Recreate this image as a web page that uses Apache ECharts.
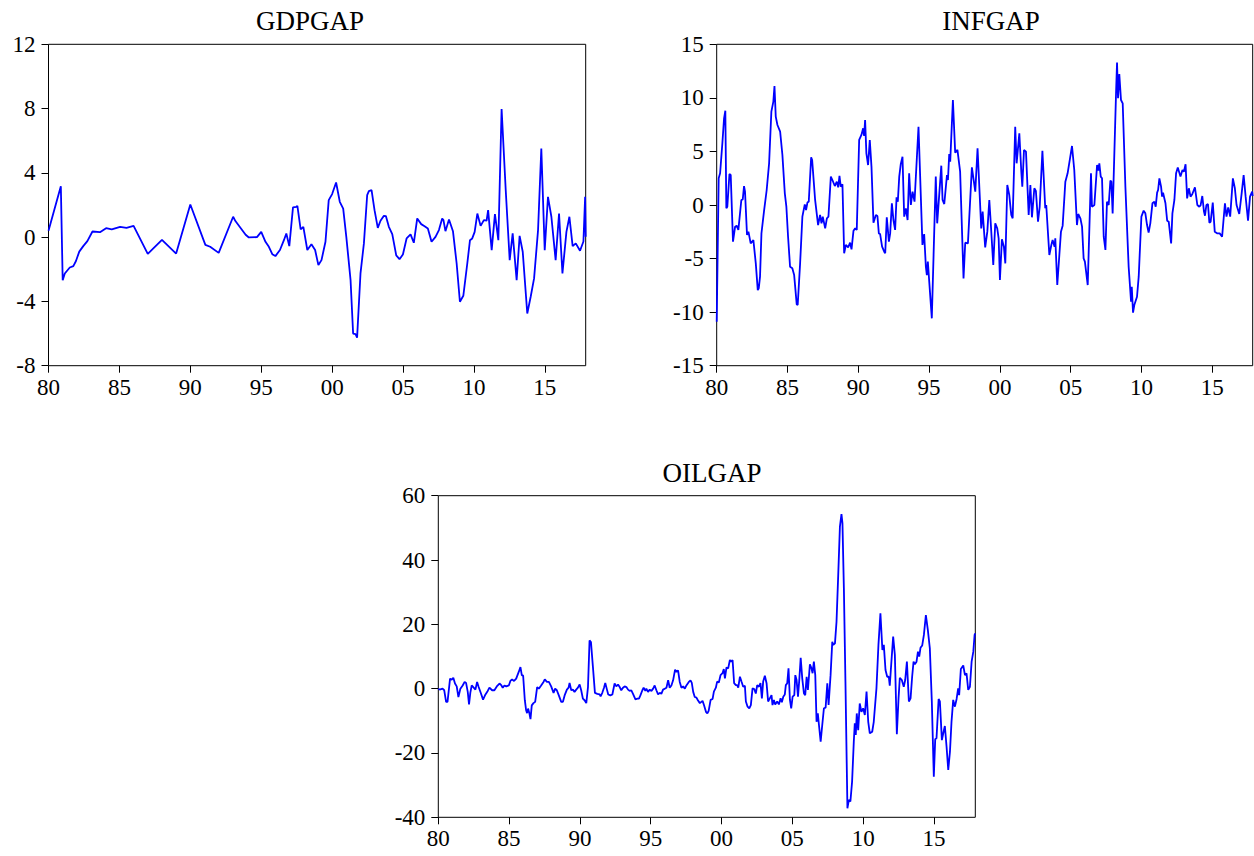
<!DOCTYPE html>
<html>
<head>
<meta charset="utf-8">
<script src="https://cdn.jsdelivr.net/npm/echarts@6/dist/echarts.min.js"></script>
<style>
html,body{margin:0;padding:0;background:#fff;}
#chart{width:1254px;height:856px;}
</style>
</head>
<body>
<div id="chart"></div>
<script>
// ---------- DATA ----------
const gdpYears = [1980.00,1980.87,1981.00,1981.15,1981.50,1981.75,1981.93,1982.17,1982.45,1982.74,1983.10,1983.63,1984.06,1984.46,1985.05,1985.50,1986.00,1987.00,1988.00,1989.00,1990.00,1991.06,1991.40,1992.00,1993.02,1993.18,1993.90,1994.13,1994.70,1995.00,1995.30,1995.54,1995.78,1996.00,1996.32,1996.60,1996.77,1996.98,1997.24,1997.48,1997.55,1997.78,1997.97,1998.25,1998.54,1998.80,1999.03,1999.25,1999.53,1999.76,2000.00,2000.28,2000.54,2000.78,2001.00,2001.30,2001.48,2001.65,2001.76,2002.00,2002.24,2002.47,2002.59,2002.78,2002.99,2003.22,2003.41,2003.65,2003.79,2004.00,2004.24,2004.52,2004.75,2004.99,2005.25,2005.53,2005.76,2006.00,2006.28,2006.52,2006.75,2007.01,2007.29,2007.53,2007.76,2007.85,2007.99,2008.24,2008.52,2008.78,2009.01,2009.25,2009.53,2009.72,2009.88,2010.05,2010.24,2010.47,2010.70,2010.89,2011.00,2011.25,2011.48,2011.72,2011.95,2012.24,2012.52,2012.73,2013.01,2013.22,2013.44,2013.76,2014.00,2014.24,2014.52,2014.75,2014.99,2015.22,2015.46,2015.76,2016.00,2016.24,2016.52,2016.73,2016.96,2017.18,2017.48,2017.72,2017.84,2017.88];
const gdpGap = [0.40,3.17,-2.68,-2.26,-1.89,-1.80,-1.50,-0.90,-0.56,-0.25,0.35,0.31,0.56,0.48,0.64,0.58,0.70,-1.04,-0.17,-1.02,2.03,-0.48,-0.60,-0.98,1.27,1.00,0.15,-0.02,0.00,0.33,-0.29,-0.60,-1.06,-1.18,-0.80,-0.19,0.23,-0.56,1.85,1.89,1.95,0.48,0.64,-0.80,-0.44,-0.80,-1.74,-1.43,-0.29,2.30,2.68,3.40,2.20,1.78,0.02,-2.68,-6.00,-6.04,-6.25,-2.26,-0.39,2.61,2.86,2.93,1.68,0.58,1.02,1.33,1.31,0.64,0.19,-1.14,-1.37,-1.08,-0.08,0.17,-0.35,1.16,0.81,0.68,0.54,-0.29,0.02,0.44,1.16,1.06,0.37,1.10,0.37,-1.64,-4.02,-3.65,-1.64,-0.19,-0.08,0.33,1.47,0.70,1.06,1.02,1.68,-0.81,1.43,-0.19,7.97,2.93,-1.43,0.23,-2.68,0.08,-0.91,-4.75,-3.71,-2.57,0.44,5.52,-0.81,2.51,1.27,-1.43,1.47,-2.26,0.33,1.27,-0.56,-0.39,-0.85,-0.27,2.51,0.02];

const infYears = [1980.00,1980.14,1980.24,1980.40,1980.52,1980.61,1980.68,1980.75,1980.90,1980.99,1981.15,1981.30,1981.41,1981.53,1981.74,1981.84,1981.93,1982.00,1982.14,1982.24,1982.40,1982.59,1982.76,1982.90,1982.97,1983.06,1983.16,1983.35,1983.53,1983.70,1983.86,1984.00,1984.08,1984.17,1984.29,1984.48,1984.64,1984.81,1984.92,1985.04,1985.18,1985.34,1985.47,1985.65,1985.72,1985.89,1986.05,1986.22,1986.31,1986.41,1986.50,1986.67,1986.74,1986.95,1987.16,1987.30,1987.40,1987.49,1987.66,1987.78,1987.89,1988.06,1988.17,1988.34,1988.48,1988.58,1988.67,1988.76,1988.88,1989.00,1989.12,1989.28,1989.42,1989.52,1989.66,1989.78,1989.89,1990.06,1990.22,1990.34,1990.41,1990.48,1990.57,1990.69,1990.81,1990.93,1991.07,1991.24,1991.35,1991.45,1991.54,1991.68,1991.83,1991.90,1992.01,1992.16,1992.25,1992.37,1992.48,1992.60,1992.70,1992.79,1992.89,1993.00,1993.12,1993.24,1993.36,1993.48,1993.59,1993.71,1993.83,1993.97,1994.25,1994.53,1994.65,1994.77,1994.84,1994.91,1995.19,1995.47,1995.57,1995.86,1995.95,1996.07,1996.26,1996.33,1996.42,1996.49,1996.68,1996.84,1997.00,1997.19,1997.43,1997.55,1997.74,1998.02,1998.26,1998.42,1998.68,1998.78,1998.96,1999.11,1999.25,1999.34,1999.53,1999.67,1999.81,1999.91,2000.00,2000.14,2000.28,2000.38,2000.52,2000.66,2000.80,2000.90,2001.08,2001.18,2001.37,2001.51,2001.58,2001.70,2001.84,2002.03,2002.15,2002.26,2002.43,2002.54,2002.69,2002.81,2003.00,2003.20,2003.27,2003.49,2003.63,2003.72,2003.86,2003.91,2004.05,2004.31,2004.43,2004.62,2004.78,2004.97,2005.09,2005.25,2005.44,2005.53,2005.68,2005.80,2005.91,2006.00,2006.20,2006.43,2006.50,2006.67,2006.86,2006.95,2007.02,2007.12,2007.21,2007.33,2007.45,2007.56,2007.68,2007.80,2007.87,2007.96,2008.08,2008.20,2008.27,2008.34,2008.43,2008.55,2008.67,2008.86,2009.09,2009.26,2009.31,2009.40,2009.49,2009.68,2009.80,2009.99,2010.15,2010.27,2010.39,2010.50,2010.62,2010.77,2010.91,2011.00,2011.10,2011.17,2011.26,2011.38,2011.45,2011.52,2011.69,2011.81,2011.92,2012.09,2012.18,2012.32,2012.44,2012.56,2012.75,2012.89,2012.99,2013.11,2013.22,2013.34,2013.46,2013.58,2013.77,2013.94,2014.08,2014.17,2014.29,2014.41,2014.48,2014.58,2014.69,2014.79,2014.88,2015.03,2015.17,2015.36,2015.52,2015.69,2015.89,2016.00,2016.12,2016.26,2016.45,2016.59,2016.71,2016.90,2017.07,2017.21,2017.35,2017.52,2017.66,2017.81,2017.85];
const infGap = [-10.9,2.49,2.96,5.76,8.09,8.8,-0.31,-0.16,2.89,2.8,-3.42,-2.02,-1.93,-2.33,0.47,0.53,1.77,1.24,-2.8,-2.49,-3.58,-3.27,-5.45,-7.94,-7.78,-6.69,-2.65,-0.47,1.4,3.89,8.71,9.65,11.11,8.25,7.47,6.85,4.67,1.09,-0.16,-2.96,-5.76,-5.91,-6.54,-9.27,-9.34,-5.45,-1.09,0.06,-0.47,0.25,0.31,4.45,4.2,0.47,-1.87,-0.93,-1.71,-1.09,-2.18,-1.24,-1.09,2.65,2.33,1.77,2.18,1.65,2.71,1.71,1.93,-4.51,-3.73,-3.95,-3.52,-4.14,-2.4,-2.18,-2.33,6.07,6.54,7.16,6.44,7.94,4.82,3.73,6.07,3.58,-1.65,-0.93,-1.03,-2.65,-2.71,-3.89,-4.36,-4.51,-1.15,-3.42,-2.65,0.16,-1.4,-2.33,0.72,0.31,2.65,3.83,4.51,-1.09,-0.31,-1.4,2.96,0.0,1.24,0.31,7.31,-3.73,-2.71,-5.76,-6.54,-5.29,-10.58,2.65,-1.71,3.67,0.47,0.09,2.8,2.33,4.76,4.05,9.8,4.89,5.14,3.11,-6.85,-3.52,-3.58,3.52,1.24,5.29,-2.18,-0.62,-3.95,-2.49,0.47,-1.4,-5.6,-1.71,-2.18,-3.11,-7.0,-3.2,-3.89,-5.45,1.87,0.93,-0.93,-1.24,7.31,3.89,6.69,3.11,1.71,5.14,4.98,-0.93,1.87,-1.15,1.56,1.31,-1.56,-0.16,5.07,-0.31,0.0,-4.67,-3.73,-3.27,-3.89,-3.11,-7.47,-2.49,-1.93,2.18,2.96,4.51,5.51,3.27,-1.87,-0.84,-1.24,-2.02,-4.98,-5.29,-7.47,2.96,-0.16,0.0,3.73,3.21,3.89,2.65,2.49,-2.96,-4.2,0.31,0.0,2.27,2.18,-0.78,4.82,10.43,13.29,9.96,12.23,9.8,9.49,1.71,-5.76,-9.03,-7.63,-10.05,-9.34,-8.56,-6.69,-1.09,-0.53,-0.78,-1.87,-2.58,-1.71,0.16,0.31,-0.16,1.15,1.4,2.49,1.71,0.78,1.15,0.16,-1.46,-1.56,-3.58,-0.78,0.47,2.96,3.49,2.65,3.27,3.11,3.8,0.62,1.56,0.78,1.0,1.65,0.0,-0.16,-0.03,0.84,-0.62,-1.0,0.0,0.09,-1.65,-1.56,0.22,-2.49,-2.65,-2.65,-2.96,0.16,-1.09,-0.22,-1.09,2.49,1.56,0.0,-0.84,1.09,2.8,0.78,-1.46,0.78,1.24,0.84];

const oilYears = [1980.00,1980.10,1980.30,1980.42,1980.55,1980.65,1980.83,1980.95,1981.06,1981.18,1981.30,1981.42,1981.56,1981.72,1981.86,1981.96,1982.08,1982.17,1982.26,1982.36,1982.50,1982.62,1982.74,1982.85,1983.02,1983.16,1983.33,1983.49,1983.61,1983.80,1983.96,1984.13,1984.32,1984.46,1984.55,1984.67,1984.80,1984.98,1985.09,1985.21,1985.35,1985.50,1985.68,1985.80,1985.90,1985.99,1986.11,1986.20,1986.27,1986.34,1986.44,1986.51,1986.60,1986.72,1986.84,1986.98,1987.10,1987.26,1987.43,1987.52,1987.67,1987.81,1987.97,1988.14,1988.25,1988.37,1988.51,1988.68,1988.80,1988.92,1989.08,1989.20,1989.27,1989.39,1989.50,1989.62,1989.74,1989.86,1989.98,1990.09,1990.21,1990.33,1990.45,1990.57,1990.68,1990.78,1990.92,1991.06,1991.23,1991.39,1991.46,1991.58,1991.70,1991.79,1991.91,1992.00,1992.15,1992.29,1992.45,1992.57,1992.69,1992.81,1992.92,1993.04,1993.16,1993.28,1993.40,1993.51,1993.63,1993.75,1993.92,1994.06,1994.17,1994.27,1994.41,1994.50,1994.62,1994.69,1994.81,1994.93,1995.05,1995.17,1995.28,1995.40,1995.52,1995.64,1995.75,1995.87,1995.99,1996.11,1996.23,1996.34,1996.46,1996.58,1996.72,1996.82,1996.93,1997.05,1997.17,1997.29,1997.41,1997.52,1997.69,1997.81,1997.90,1998.00,1998.11,1998.23,1998.33,1998.47,1998.66,1998.76,1998.90,1999.00,1999.09,1999.23,1999.37,1999.46,1999.60,1999.69,1999.81,1999.93,2000.07,2000.16,2000.24,2000.35,2000.47,2000.59,2000.68,2000.78,2000.89,2001.01,2001.10,2001.18,2001.30,2001.41,2001.53,2001.65,2001.72,2001.84,2001.96,2002.07,2002.19,2002.31,2002.42,2002.52,2002.64,2002.75,2002.85,2002.94,2003.06,2003.18,2003.29,2003.41,2003.53,2003.60,2003.70,2003.79,2003.93,2004.05,2004.17,2004.26,2004.36,2004.47,2004.54,2004.64,2004.73,2004.83,2004.92,2005.02,2005.14,2005.21,2005.30,2005.40,2005.49,2005.59,2005.70,2005.82,2005.91,2006.01,2006.10,2006.24,2006.34,2006.43,2006.52,2006.62,2006.71,2006.80,2006.88,2007.00,2007.09,2007.23,2007.35,2007.47,2007.56,2007.70,2007.82,2007.89,2008.01,2008.12,2008.24,2008.36,2008.47,2008.54,2008.64,2008.75,2008.89,2008.99,2009.10,2009.22,2009.34,2009.41,2009.48,2009.55,2009.65,2009.76,2009.88,2010.00,2010.12,2010.24,2010.36,2010.47,2010.64,2010.75,2010.94,2011.08,2011.22,2011.36,2011.46,2011.58,2011.70,2011.81,2011.88,2011.98,2012.12,2012.24,2012.38,2012.50,2012.59,2012.73,2012.87,2012.97,2013.09,2013.23,2013.35,2013.46,2013.56,2013.65,2013.77,2013.87,2013.96,2014.05,2014.17,2014.29,2014.43,2014.57,2014.71,2014.85,2014.99,2015.09,2015.18,2015.33,2015.42,2015.56,2015.68,2015.77,2015.89,2016.01,2016.13,2016.24,2016.36,2016.48,2016.60,2016.71,2016.78,2016.90,2017.07,2017.19,2017.30,2017.42,2017.54,2017.66,2017.78,2017.87,2017.92];
const oilGap = [0,-0.3,0,-0.5,-4.1,-4.1,3.1,2.8,3.4,1.6,0.7,-2.6,0.0,1.0,2.1,1.8,-1.0,-4.9,-1.3,1.0,0.3,-0.3,2.1,0.5,-1.6,-3.4,-1.8,-0.7,0.3,-0.5,-0.5,0.7,1.6,1.0,0.3,1.0,0.7,1.0,2.4,2.9,2.4,3.1,5.2,6.7,4.1,4.1,-3.6,-6.7,-7.6,-6.2,-7.8,-9.5,-5.2,-4.5,-4.1,0.5,0.0,1.0,2.1,2.9,2.1,2.1,0.7,-1.3,0,-0.5,-2.1,-4.1,-4.1,-2.1,-0.3,0.3,1.8,-0.5,-0.3,-1.0,-0.3,0.3,1.3,-0.5,-3.1,-3.6,-4.5,0.5,15.0,14.5,6.7,-1.3,-1.6,-1.8,-2.4,-1.3,0.3,1.8,-0.3,-1.8,-2.1,-1.8,1.6,0.7,1.3,0.5,-0.5,0.3,0.7,0.5,-0.3,-0.7,-0.5,-1.6,-3.3,-3.1,-3.1,-2.1,-0.5,0.3,-0.7,0,-1.0,-0.3,-0.7,0,1.0,-0.5,-1.8,-1.3,-1.6,-0.3,0,0.3,2.6,0.3,1.0,2.6,5.9,5.2,5.7,2.1,0.3,0.7,0,1.0,2.1,2.6,1.8,-1.0,-2.6,-2.8,-3.6,-4.5,-3.8,-5.1,-7.2,-7.7,-6.9,-3.5,-3.2,-0.9,0.3,2.2,1.9,4.2,4.8,6.1,3.2,6.6,6.3,8.9,8.4,8.9,1.7,1.1,1.1,0.3,3.7,2.2,0.6,0.9,-4.0,-5.6,-6.1,-5.1,0.1,-0.1,-1.5,1.1,0.6,1.7,-3.0,2.2,4.0,1.7,-4.0,-3.0,-2.0,-5.1,-3.5,-4.9,-4.0,-4.9,-3.0,-4.2,-2.5,-1.8,1.1,1.7,6.3,-3.5,-6.1,-2.5,-2.0,4.2,2.7,-2.5,2.7,9.6,3.2,-1.5,-2.0,3.7,-0.4,7.6,6.5,4.8,8.4,4.2,-10.3,-7.7,-11.3,-16.5,-12.3,-6.1,-5.9,1.7,-5.1,4.2,14.6,13.6,14.1,20.8,35.3,50.4,54.3,51.4,31.2,2.2,-37.2,-34.6,-35.1,-28.9,-16.5,-10.8,-14.4,-7.7,-12.9,-4.6,-7.2,-6.1,-8.2,-0.9,-10.3,-13.9,-13.4,-10.3,0.1,13.6,23.4,12.0,13.6,5.8,3.7,3.7,0.9,7.4,16.2,10.5,-14.2,-3.0,3.4,2.7,0.6,2.7,8.4,-4.0,-3.0,3.7,8.4,7.6,8.4,11.5,10.0,12.7,13.4,16.7,22.9,18.2,12.5,-4.0,-27.4,-15.7,-15.4,-3.2,-4.0,-16.0,-13.4,-11.6,-18.0,-25.3,-19.6,-10.3,-3.5,-5.6,-3.2,0.1,-2.0,6.1,7.2,4.2,4.8,-0.4,0.6,8.4,11.5,16.7,17.2];

const seriesNames = ['GDPGAP','INFGAP','OILGAP'];
const xTickYears = [1980,1985,1990,1995,2000,2005,2010,2015];
const xTickLabels = ['80','85','90','95','00','05','10','15'];
const yRanges = [[-8,12,4],[-15,15,5],[-40,60,20]];

// ---------- LAYOUT ----------
const panels = [
  {left:48.5, top:44.3, width:537.2, height:321.4, xMax:2017.88, titleX:310, titleY:21},
  {left:716.7, top:44.3, width:536, height:321.4, xMax:2017.85, titleX:991, titleY:21},
  {left:438.3, top:495.7, width:537, height:321.6, xMax:2017.92, titleX:712, titleY:472.5}
];
const dataSets = [[gdpYears,gdpGap],[infYears,infGap],[oilYears,oilGap]];
const FONT = '"Liberation Serif","Times New Roman",serif';

const grids=[], xAxes=[], yAxes=[], series=[], graphics=[];
panels.forEach((p,i)=>{
  grids.push({left:p.left, top:p.top, width:p.width, height:p.height, show:true,
    borderColor:'#000', borderWidth:1, backgroundColor:'transparent', containLabel:false});
  xAxes.push({type:'value', gridIndex:i, min:1980, max:p.xMax, position:'bottom',
    axisLine:{show:false, onZero:false}, splitLine:{show:false},
    axisTick:{show:true, inside:false, length:7, lineStyle:{color:'#000',width:1}, customValues:xTickYears},
    axisLabel:{show:true, margin:10, color:'#000', fontFamily:FONT, fontSize:23, customValues:xTickYears,
      formatter:v=>{const k=xTickYears.indexOf(Math.round(v));return k>=0?xTickLabels[k]:'';}}
  });
  const r=yRanges[i];
  yAxes.push({type:'value', gridIndex:i, min:r[0], max:r[1], interval:r[2], position:'left',
    axisLine:{show:false, onZero:false}, splitLine:{show:false},
    axisTick:{show:true, inside:false, length:7, lineStyle:{color:'#000',width:1}},
    axisLabel:{show:true, margin:13, color:'#000', fontFamily:FONT, fontSize:23}
  });
  const [xs,ys]=dataSets[i];
  series.push({type:'line', name:seriesNames[i], xAxisIndex:i, yAxisIndex:i,
    data:xs.map((x,k)=>[x,ys[k]]), showSymbol:false, symbol:'none', smooth:false, clip:true,
    lineStyle:{color:'#0000ff', width:1.8}, animation:false});
  graphics.push({type:'text', x:p.titleX, y:p.titleY,
    style:{text:seriesNames[i], fill:'#000', font:'27px '+FONT, textAlign:'center', textVerticalAlign:'middle'}});
});

const chart = echarts.init(document.getElementById('chart'), null, {renderer:'svg', width:1254, height:856});
chart.setOption({
  animation:false,
  backgroundColor:'#fff',
  grid:grids, xAxis:xAxes, yAxis:yAxes, series:series,
  graphic:graphics
});
</script>
</body>
</html>
